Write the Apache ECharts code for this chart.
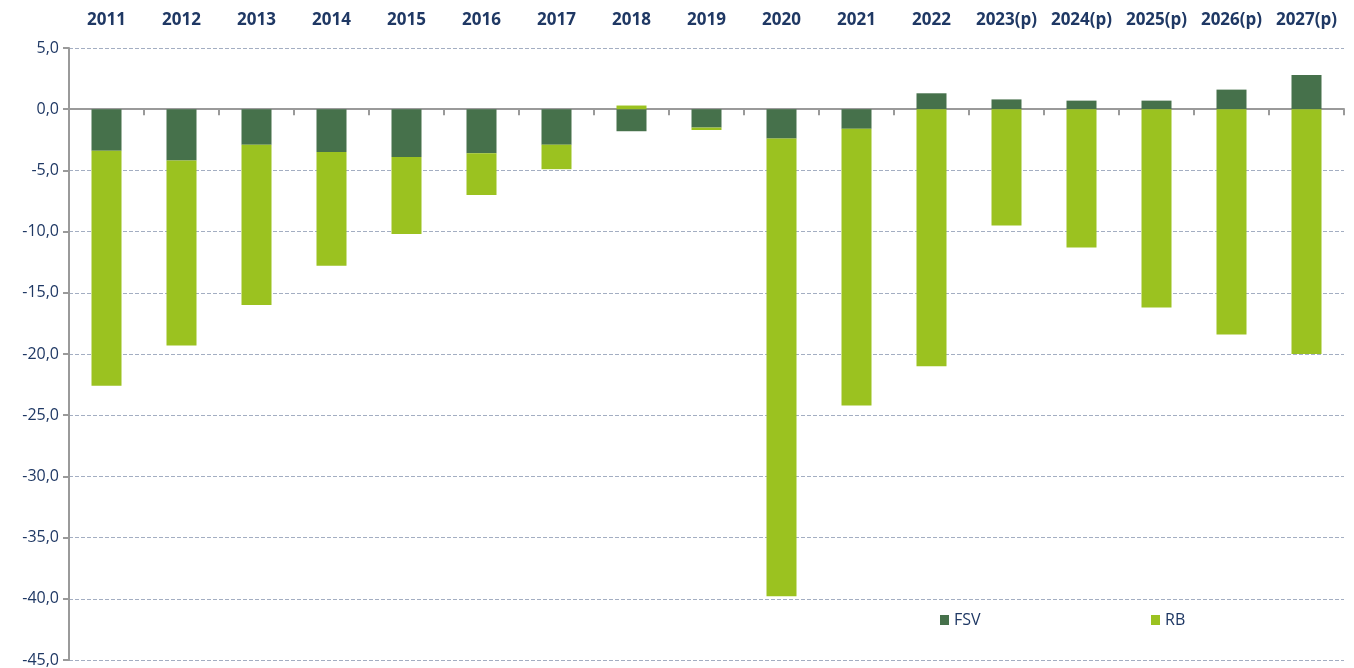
<!DOCTYPE html>
<html>
<head>
<meta charset="utf-8">
<script src="https://cdn.jsdelivr.net/npm/echarts@6/dist/echarts.min.js"></script>
<style>
  html, body { margin: 0; padding: 0; background: #fff; }
  #chart { width: 1354px; height: 668px; }
</style>
</head>
<body>
<div id="chart"></div>
<script>
const years = ['2011', '2012', '2013', '2014', '2015', '2016', '2017', '2018', '2019',
  '2020', '2021', '2022', '2023(p)', '2024(p)', '2025(p)', '2026(p)', '2027(p)']
const fsv = [-3.4, -4.2, -2.9, -3.5, -3.9, -3.6, -2.9, -1.8, -1.5, -2.4, -1.6, 1.3, 0.8, 0.7, 0.7, 1.6, 2.8]
const rb = [-19.2, -15.1, -13.1, -9.3, -6.3, -3.4, -2.0, 0.3, -0.2, -37.4, -22.6, -21.0, -9.5, -11.3, -16.2, -18.4, -20.0]

const navy = '#1f3864'
const font = '"Open Sans", "Noto Sans", sans-serif'

const chart = echarts.init(document.getElementById('chart'))
chart.setOption({
  animation: false,
  textStyle: { fontFamily: font },
  grid: { left: 69, right: 10, top: 48, bottom: 8 },
  legend: [
    { data: ['FSV'], icon: 'rect', left: 935, top: 607, itemWidth: 9, itemHeight: 10, itemGap: 6,
      textStyle: { color: navy, fontSize: 16, fontFamily: font } },
    { data: ['RB'], icon: 'rect', left: 1146, top: 607, itemWidth: 9, itemHeight: 10, itemGap: 6,
      textStyle: { color: navy, fontSize: 16, fontFamily: font } },
  ],
  xAxis: [
    {
      type: 'category',
      data: years,
      position: 'top',
      axisLine: { show: false, onZero: false },
      axisTick: { show: false },
      axisLabel: { interval: 0, color: navy, fontSize: 17, fontWeight: 'bold', margin: 19 },
    },
    {
      type: 'category',
      data: years,
      position: 'bottom',
      axisLine: { onZero: true, lineStyle: { color: '#9a9a9a', width: 2 } },
      axisTick: { show: true, length: 6, lineStyle: { color: '#9a9a9a', width: 2 } },
      axisLabel: { show: false },
    },
  ],
  yAxis: {
    type: 'value',
    min: -45,
    max: 5,
    interval: 5,
    axisLine: { show: true, lineStyle: { color: '#9a9a9a', width: 2 } },
    axisTick: { show: true, length: 6, lineStyle: { color: '#9a9a9a', width: 2 } },
    axisLabel: {
      color: navy,
      fontSize: 16,
      margin: 10,
      formatter: (v) => v.toFixed(1).replace('.', ','),
    },
    splitLine: { lineStyle: { color: '#a3aec2', type: 'dashed', width: 1 } },
  },
  series: [
    {
      name: 'FSV',
      type: 'bar',
      stack: 'tot',
      data: fsv,
      barWidth: 30,
      itemStyle: { color: '#46714b' },
    },
    {
      name: 'RB',
      type: 'bar',
      stack: 'tot',
      data: rb,
      barWidth: 30,
      itemStyle: { color: '#9bc220' },
    },
  ],
})
</script>
</body>
</html>
